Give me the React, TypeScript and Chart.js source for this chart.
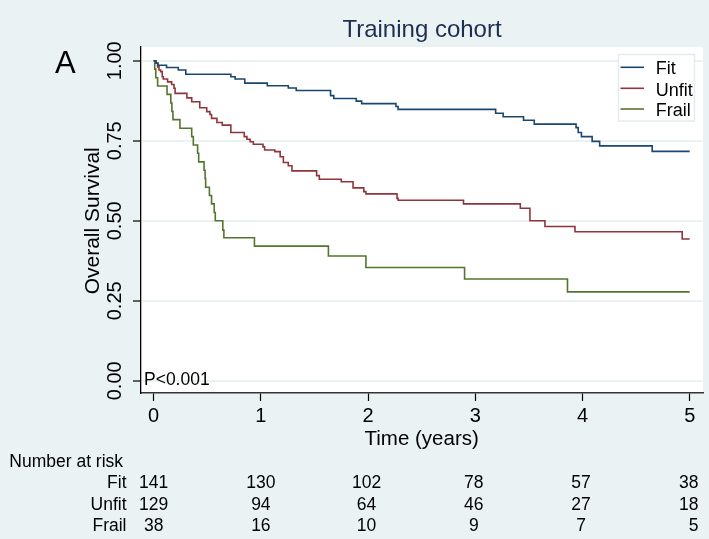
import React, { useEffect, useRef } from "react";
import { Chart, registerables } from "chart.js";

Chart.register(...registerables);

// ---- data ----
const fitTimes = [0, 0.02, 0.04, 0.12, 0.23, 0.3, 0.72, 0.76, 0.85, 1.06, 1.256, 1.33, 1.65, 1.68, 1.89, 1.94, 2.26, 2.28, 3.19, 3.26, 3.45, 3.55, 3.94, 3.96, 3.99, 4.09, 4.16, 4.65, 5.0];
const fitSurv = [1.0, 0.993, 0.986, 0.979, 0.971, 0.958, 0.95, 0.943, 0.93, 0.922, 0.915, 0.907, 0.891, 0.882, 0.874, 0.866, 0.857, 0.848, 0.836, 0.825, 0.814, 0.802, 0.791, 0.776, 0.763, 0.748, 0.734, 0.717, 0.717];

const unfitTimes = [0, 0.02, 0.037, 0.05, 0.065, 0.08, 0.09, 0.13, 0.168, 0.19, 0.2, 0.31, 0.355, 0.43, 0.495, 0.525, 0.54, 0.59, 0.64, 0.72, 0.845, 0.87, 0.9, 0.93, 1.02, 1.035, 1.13, 1.18, 1.21, 1.256, 1.29, 1.52, 1.545, 1.75, 1.86, 1.96, 1.98, 2.27, 2.28, 2.89, 3.42, 3.51, 3.65, 3.93, 4.93, 5.0];
const unfitSurv = [1.0, 0.992, 0.981, 0.971, 0.966, 0.95, 0.943, 0.934, 0.926, 0.914, 0.898, 0.884, 0.872, 0.853, 0.841, 0.832, 0.82, 0.807, 0.799, 0.776, 0.763, 0.755, 0.747, 0.739, 0.731, 0.721, 0.716, 0.7, 0.682, 0.672, 0.656, 0.641, 0.63, 0.622, 0.603, 0.591, 0.584, 0.57, 0.564, 0.553, 0.539, 0.5, 0.482, 0.466, 0.443, 0.443];

const frailTimes = [0, 0.01, 0.02, 0.037, 0.125, 0.16, 0.17, 0.18, 0.245, 0.355, 0.37, 0.41, 0.42, 0.47, 0.48, 0.485, 0.52, 0.54, 0.565, 0.575, 0.645, 0.655, 0.94, 1.63, 1.98, 2.9, 3.86, 5.0];
const frailSurv = [1.0, 0.974, 0.947, 0.921, 0.895, 0.868, 0.842, 0.816, 0.789, 0.763, 0.737, 0.711, 0.684, 0.658, 0.632, 0.605, 0.579, 0.553, 0.526, 0.5, 0.471, 0.447, 0.421, 0.39, 0.354, 0.318, 0.278, 0.278];

const groupNames = ["Fit", "Unfit", "Frail"];
const xTicks = [0, 1, 2, 3, 4, 5];
const yTicks = [0, 0.25, 0.5, 0.75, 1];
const yTickLabels = ["0.00", "0.25", "0.50", "0.75", "1.00"];
const riskFit = [141, 130, 102, 78, 57, 38];
const riskUnfit = [129, 94, 64, 46, 27, 18];
const riskFrail = [38, 16, 10, 9, 7, 5];

// ---- styles ----
const FONT = '"Liberation Sans", Arial, Helvetica, sans-serif';
const BG = "#eaf2f3";
const TITLE = "#1e2e50";
const COLORS = ["#1a476f", "#90353b", "#55752f"];

const zip = (t: number[], s: number[]) => t.map((x, i) => ({ x, y: s[i] }));

const decor = {
  id: "decor",
  beforeDraw(chart: any) {
    const { ctx, chartArea: a } = chart;
    ctx.save();
    ctx.fillStyle = BG;
    ctx.fillRect(0, 0, chart.width, chart.height);
    ctx.fillStyle = "#ffffff";
    ctx.fillRect(a.left, a.top, a.right - a.left, a.bottom - a.top);
    ctx.restore();
  },
  afterDraw(chart: any) {
    const { ctx, chartArea: a } = chart;
    const xs = chart.scales.x;
    const ys = chart.scales.y;
    ctx.save();
    ctx.textBaseline = "alphabetic";

    // title
    ctx.fillStyle = TITLE;
    ctx.font = `24px ${FONT}`;
    ctx.textAlign = "center";
    ctx.fillText("Training cohort", (a.left + a.right) / 2, 36.7);

    // panel letter
    ctx.fillStyle = "#000";
    ctx.font = `31px ${FONT}`;
    ctx.textAlign = "left";
    ctx.fillText("A", 55, 73.3);

    // y tick labels (rotated)
    ctx.font = `20px ${FONT}`;
    yTicks.forEach((v, i) => {
      ctx.save();
      ctx.translate(120.7, ys.getPixelForValue(v));
      ctx.rotate(-Math.PI / 2);
      ctx.textAlign = "center";
      ctx.fillText(yTickLabels[i], 0, 0);
      ctx.restore();
    });

    // y title
    ctx.font = `21px ${FONT}`;
    ctx.save();
    ctx.translate(99.3, (ys.getPixelForValue(0) + ys.getPixelForValue(1)) / 2);
    ctx.rotate(-Math.PI / 2);
    ctx.textAlign = "center";
    ctx.fillText("Overall Survival", 0, 0);
    ctx.restore();

    // x tick labels
    ctx.font = `20px ${FONT}`;
    ctx.textAlign = "center";
    xTicks.forEach((v) => ctx.fillText(String(v), xs.getPixelForValue(v), 421.7));
    ctx.font = `20.5px ${FONT}`;
    ctx.fillText("Time (years)", (xs.getPixelForValue(0) + xs.getPixelForValue(5)) / 2, 445);

    // p-value
    ctx.font = `17.5px ${FONT}`;
    ctx.textAlign = "left";
    ctx.fillText("P<0.001", 144, 385);

    // legend
    const lx = 618.5, ly = 54.5, lw = 76, lh = 66.5;
    ctx.fillStyle = "#ffffff";
    ctx.fillRect(lx, ly, lw, lh);
    ctx.strokeStyle = "#e4ecee";
    ctx.lineWidth = 1.5;
    ctx.strokeRect(lx, ly, lw, lh);
    const lineYs = [67.3, 88.3, 109];
    const textYs = [74, 95.7, 115.9];
    ctx.font = `18px ${FONT}`;
    groupNames.forEach((g, i) => {
      ctx.strokeStyle = COLORS[i];
      ctx.lineWidth = 1.6;
      ctx.beginPath();
      ctx.moveTo(620.5, lineYs[i]);
      ctx.lineTo(644, lineYs[i]);
      ctx.stroke();
      ctx.fillStyle = "#000";
      ctx.textAlign = "left";
      ctx.fillText(g, 655.7, textYs[i]);
    });

    // number at risk table
    ctx.fillStyle = "#000";
    ctx.font = `17.5px ${FONT}`;
    ctx.textAlign = "left";
    ctx.fillText("Number at risk", 9.3, 467.3);
    const rows = [riskFit, riskUnfit, riskFrail];
    const rowYs = [488.3, 509.9, 530.5];
    rows.forEach((row, r) => {
      ctx.textAlign = "right";
      ctx.fillText(groupNames[r], 126.5, rowYs[r]);
      row.forEach((n, i) => {
        const px = xs.getPixelForValue(xTicks[i]);
        if (i === row.length - 1) {
          ctx.textAlign = "right";
          ctx.fillText(String(n), 698.5, rowYs[r]);
        } else {
          ctx.textAlign = "center";
          ctx.fillText(String(n), px - (i >= 2 ? 1.5 : 0), rowYs[r]);
        }
      });
    });

    ctx.restore();
  },
};

export default function App() {
  const ref = useRef<HTMLCanvasElement | null>(null);

  useEffect(() => {
    if (!ref.current) return;
    const chart = new Chart(ref.current, {
      type: "line",
      data: {
        datasets: [
          { label: "Fit", data: zip(fitTimes, fitSurv), borderColor: COLORS[0] },
          { label: "Unfit", data: zip(unfitTimes, unfitSurv), borderColor: COLORS[1] },
          { label: "Frail", data: zip(frailTimes, frailSurv), borderColor: COLORS[2] },
        ].map((d) => ({
          ...d,
          borderWidth: 1.6,
          pointRadius: 0,
          stepped: "before" as const,
          fill: false,
          tension: 0,
        })),
      },
      options: {
        animation: false,
        responsive: false,
        events: [],
        layout: { padding: { left: 141, top: 47, right: 6, bottom: 146 } },
        plugins: { legend: { display: false }, tooltip: { enabled: false }, title: { display: false } },
        scales: {
          x: {
            type: "linear",
            min: -0.118,
            max: 5.124,
            afterBuildTicks: (s: any) => {
              s.ticks = xTicks.map((v) => ({ value: v }));
            },
            afterFit: (s: any) => {
              s.height = 0;
            },
            ticks: { display: false },
            grid: { drawOnChartArea: false, drawTicks: true, tickLength: 8, tickColor: "#000", tickWidth: 1.2 },
            border: { display: true, color: "#333", width: 1.5 },
          },
          y: {
            type: "linear",
            min: -0.038,
            max: 1.043,
            afterBuildTicks: (s: any) => {
              s.ticks = yTicks.map((v) => ({ value: v }));
            },
            afterFit: (s: any) => {
              s.width = 0;
            },
            ticks: { display: false },
            grid: { color: BG, lineWidth: 2, drawTicks: true, tickLength: 8, tickColor: "#000", tickWidth: 1.2 },
            border: { display: true, color: "#000", width: 1.3 },
          },
        },
      },
      plugins: [decor],
    });
    return () => chart.destroy();
  }, []);

  return (
    <div style={{ position: "fixed", left: 0, top: 0, width: 709, height: 539, background: BG }}>
      <canvas ref={ref} width={709} height={539} style={{ display: "block" }} />
    </div>
  );
}
